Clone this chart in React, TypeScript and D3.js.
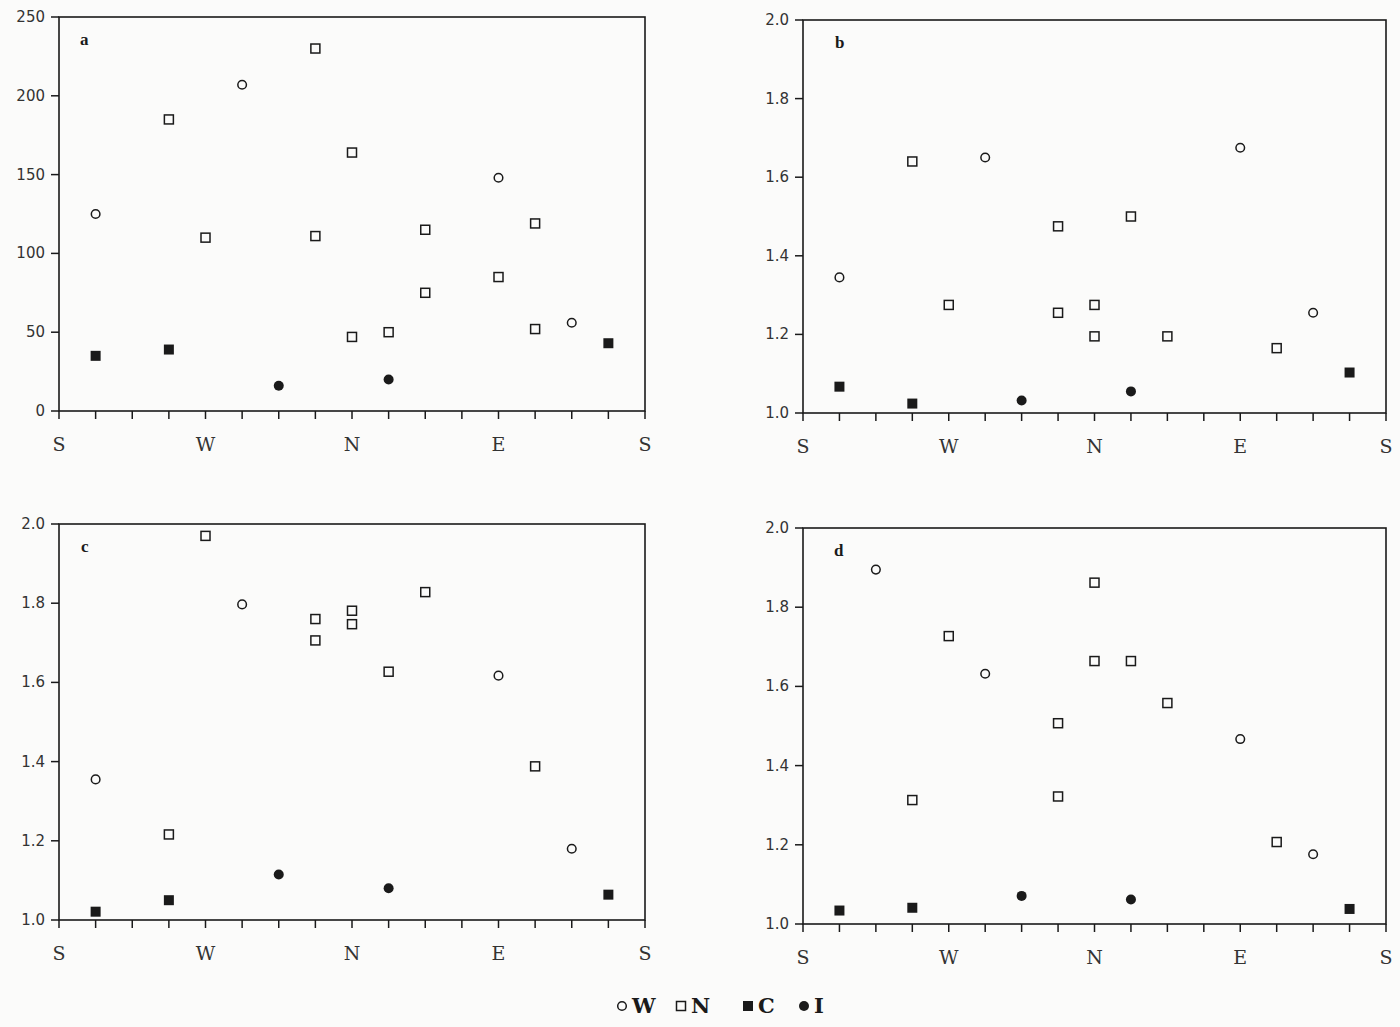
import React from 'react';
import * as d3 from 'd3';

// x = compass position in 22.5 degree steps, S(0) -> W(4) -> N(8) -> E(12) -> S(16)
const dirLabels = ['S', 'W', 'N', 'E', 'S'];

const aW = [[1, 125], [5, 207], [12, 148], [14, 56]];
const aN = [[3, 185], [4, 110], [7, 230], [7, 111], [8, 164], [8, 47], [9, 50], [10, 115], [10, 75], [12, 85], [13, 119], [13, 52]];
const aC = [[1, 35], [3, 39], [15, 43]];
const aI = [[6, 16], [9, 20]];

const bW = [[1, 1.345], [5, 1.65], [12, 1.675], [14, 1.255]];
const bN = [[3, 1.64], [4, 1.275], [7, 1.475], [7, 1.255], [8, 1.275], [8, 1.195], [9, 1.5], [10, 1.195], [13, 1.165]];
const bC = [[1, 1.067], [3, 1.024], [15, 1.103]];
const bI = [[6, 1.032], [9, 1.055]];

const cW = [[1, 1.355], [5, 1.797], [12, 1.617], [14, 1.18]];
const cN = [[3, 1.216], [4, 1.97], [7, 1.76], [7, 1.706], [8, 1.781], [8, 1.747], [9, 1.627], [10, 1.828], [13, 1.388]];
const cC = [[1, 1.021], [3, 1.05], [15, 1.064]];
const cI = [[6, 1.115], [9, 1.08]];

const dW = [[2, 1.895], [5, 1.632], [12, 1.467], [14, 1.176]];
const dN = [[3, 1.313], [4, 1.727], [7, 1.507], [7, 1.322], [8, 1.862], [8, 1.664], [9, 1.664], [10, 1.558], [13, 1.207]];
const dC = [[1, 1.034], [3, 1.041], [15, 1.038]];
const dI = [[6, 1.071], [9, 1.062]];

const ticksA = [0, 50, 100, 150, 200, 250];
const ticksR = [1.0, 1.2, 1.4, 1.6, 1.8, 2.0];

const ink = '#1a1a1a';

function Marker({ kind, x, y }) {
  if (kind === 'W') return <circle cx={x} cy={y} r={4.3} fill="none" stroke={ink} strokeWidth={1.5} />;
  if (kind === 'N') return <rect x={x - 4.5} y={y - 4.5} width={9} height={9} fill="none" stroke={ink} strokeWidth={1.5} />;
  if (kind === 'C') return <rect x={x - 5} y={y - 5} width={10} height={10} fill={ink} />;
  return <circle cx={x} cy={y} r={5} fill={ink} />;
}

function Panel({ left, right, top, bottom, domain, ticks, fmt, letter, letterDx, series }) {
  const x = d3.scaleLinear().domain([0, 16]).range([left, right]);
  const y = d3.scaleLinear().domain(domain).range([bottom, top]);
  return (
    <g>
      <rect x={left} y={top} width={right - left} height={bottom - top} fill="none" stroke={ink} strokeWidth={1.6} />
      {ticks.map((t) => (
        <g key={t}>
          <line x1={left - 8} x2={left} y1={y(t)} y2={y(t)} stroke={ink} strokeWidth={1.5} />
          <text x={left - 14} y={y(t) + 5} textAnchor="end" fontFamily="'DejaVu Sans', sans-serif" fontSize={15} fill="#333">{fmt(t)}</text>
        </g>
      ))}
      {d3.range(0, 17).map((i) => (
        <line key={i} x1={x(i)} x2={x(i)} y1={bottom} y2={bottom + 8} stroke={ink} strokeWidth={1.5} />
      ))}
      {dirLabels.map((l, i) => (
        <text key={i} x={x(i * 4)} y={bottom + 40} textAnchor="middle" fontFamily="'DejaVu Serif', serif" fontSize={19} fill="#333">{l}</text>
      ))}
      <text x={left + letterDx} y={top + 28} fontFamily="'Liberation Serif', serif" fontWeight="bold" fontSize={17} fill={ink}>{letter}</text>
      {series.map(([kind, pts]) =>
        pts.map(([px, py], j) => <Marker key={kind + j} kind={kind} x={x(px)} y={y(py)} />)
      )}
    </g>
  );
}

export default function App() {
  const f0 = d3.format('d');
  const f1 = d3.format('.1f');
  const legend = [['W', 622], ['N', 681], ['C', 748], ['I', 804]];
  return (
    <svg width={1400} height={1027} style={{ position: 'absolute', left: 0, top: 0, background: '#fbfbfa' }}>
      <Panel left={59} right={645} top={17} bottom={411} domain={[0, 250]} ticks={ticksA} fmt={f0} letter="a" letterDx={21}
        series={[['W', aW], ['N', aN], ['C', aC], ['I', aI]]} />
      <Panel left={803} right={1386} top={20} bottom={413} domain={[1, 2]} ticks={ticksR} fmt={f1} letter="b" letterDx={32}
        series={[['W', bW], ['N', bN], ['C', bC], ['I', bI]]} />
      <Panel left={59} right={645} top={524} bottom={920} domain={[1, 2]} ticks={ticksR} fmt={f1} letter="c" letterDx={22}
        series={[['W', cW], ['N', cN], ['C', cC], ['I', cI]]} />
      <Panel left={803} right={1386} top={528} bottom={924} domain={[1, 2]} ticks={ticksR} fmt={f1} letter="d" letterDx={31}
        series={[['W', dW], ['N', dN], ['C', dC], ['I', dI]]} />
      {legend.map(([k, lx]) => (
        <g key={k}>
          <Marker kind={k} x={lx} y={1006} />
          <text x={lx + 10} y={1013} fontFamily="'DejaVu Serif', serif" fontWeight="bold" fontSize={21} fill={ink}>{k}</text>
        </g>
      ))}
    </svg>
  );
}
